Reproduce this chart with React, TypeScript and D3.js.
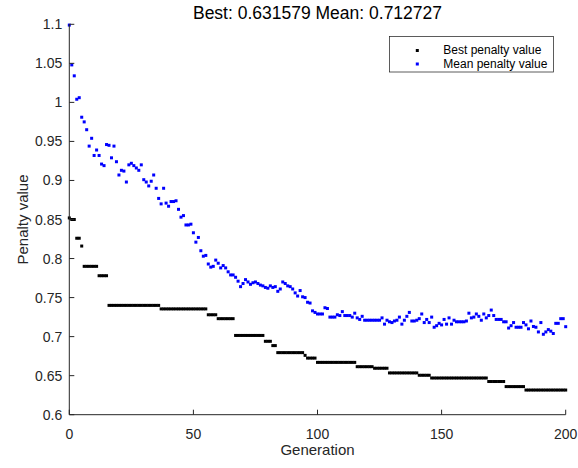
import React from "react";
import * as d3 from "d3";

const titleText = "Best: 0.631579 Mean: 0.712727";
const xLabel = "Generation";
const yLabel = "Penalty value";
const legendLabels = ["Best penalty value", "Mean penalty value"];
const xTicks = [0, 50, 100, 150, 200];
const yTicks = [0.6, 0.65, 0.7, 0.75, 0.8, 0.85, 0.9, 0.95, 1, 1.05, 1.1];

const meanValues = [
  1.099, 1.048, 1.034, 1.004, 1.006, 0.981, 0.975, 0.965, 0.944, 0.954,
  0.932, 0.939, 0.932, 0.921, 0.919, 0.946, 0.945, 0.929, 0.944, 0.924,
  0.907, 0.913, 0.912, 0.898, 0.92, 0.922, 0.919, 0.916, 0.913, 0.92,
  0.901, 0.898, 0.893, 0.899, 0.907, 0.89, 0.877, 0.87, 0.89, 0.871,
  0.867, 0.873, 0.873, 0.874, 0.863, 0.853, 0.855, 0.843, 0.843, 0.844,
  0.833, 0.821, 0.827, 0.81, 0.803, 0.804, 0.793, 0.789, 0.79, 0.798,
  0.794, 0.788, 0.791, 0.788, 0.783, 0.779, 0.779, 0.776, 0.771, 0.764,
  0.768, 0.773, 0.77, 0.767, 0.769, 0.77, 0.768, 0.766, 0.765, 0.763,
  0.762, 0.765, 0.763, 0.764, 0.758, 0.761, 0.77, 0.768, 0.765, 0.764,
  0.761, 0.756, 0.752, 0.759, 0.751, 0.75, 0.744, 0.743, 0.733, 0.731,
  0.729, 0.729, 0.729, 0.737, 0.736, 0.725, 0.725, 0.725, 0.728, 0.727,
  0.732, 0.727, 0.727, 0.727, 0.725, 0.73, 0.724, 0.722, 0.726, 0.721,
  0.721, 0.721, 0.721, 0.721, 0.721, 0.721, 0.724, 0.716, 0.721, 0.719,
  0.718, 0.72, 0.721, 0.725, 0.716, 0.721, 0.726, 0.731, 0.72, 0.72,
  0.721, 0.723, 0.729, 0.718, 0.722, 0.718, 0.725, 0.712, 0.714, 0.717,
  0.715, 0.722, 0.716, 0.724, 0.716, 0.721, 0.719, 0.719, 0.719, 0.719,
  0.72, 0.73, 0.724, 0.725, 0.729, 0.726, 0.721, 0.729, 0.724, 0.727,
  0.734, 0.727, 0.722, 0.722, 0.722, 0.719, 0.719, 0.711, 0.714, 0.718,
  0.712, 0.712, 0.712, 0.718, 0.715, 0.71, 0.72, 0.713, 0.712, 0.706,
  0.718, 0.703, 0.706, 0.709, 0.707, 0.704, 0.717, 0.717, 0.723, 0.723,
  0.712727,
];

const bestValues = [
  0.852, 0.85, 0.85, 0.826, 0.826, 0.816, 0.79, 0.79, 0.79, 0.79,
  0.79, 0.79, 0.778, 0.778, 0.778, 0.778, 0.74, 0.74, 0.74, 0.74,
  0.74, 0.74, 0.74, 0.74, 0.74, 0.74, 0.74, 0.74, 0.74, 0.74,
  0.74, 0.74, 0.74, 0.74, 0.74, 0.74, 0.74, 0.7355, 0.7355, 0.7355,
  0.7355, 0.7355, 0.7355, 0.7355, 0.7355, 0.7355, 0.7355, 0.7355, 0.7355, 0.7355,
  0.7355, 0.7355, 0.7355, 0.7355, 0.7355, 0.7355, 0.728, 0.728, 0.728, 0.728,
  0.723, 0.723, 0.723, 0.723, 0.723, 0.723, 0.723, 0.7015, 0.7015, 0.7015,
  0.7015, 0.7015, 0.7015, 0.7015, 0.7015, 0.7015, 0.7015, 0.7015, 0.7015, 0.694,
  0.694, 0.694, 0.6885, 0.6885, 0.6795, 0.6795, 0.6795, 0.6795, 0.6795, 0.6795,
  0.6795, 0.6795, 0.6795, 0.6795, 0.6795, 0.676, 0.6725, 0.6725, 0.6725, 0.6725,
  0.667, 0.667, 0.667, 0.667, 0.667, 0.667, 0.667, 0.667, 0.667, 0.667,
  0.667, 0.667, 0.667, 0.667, 0.667, 0.667, 0.6615, 0.6615, 0.6615, 0.6615,
  0.6615, 0.6615, 0.6615, 0.6595, 0.6595, 0.6595, 0.6595, 0.6595, 0.6595, 0.6535,
  0.6535, 0.6535, 0.6535, 0.6535, 0.6535, 0.6535, 0.6535, 0.6535, 0.6535, 0.6535,
  0.6535, 0.6505, 0.6505, 0.6505, 0.6505, 0.6505, 0.647, 0.647, 0.647, 0.647,
  0.647, 0.647, 0.647, 0.647, 0.647, 0.647, 0.647, 0.647, 0.647, 0.647,
  0.647, 0.647, 0.647, 0.647, 0.647, 0.647, 0.647, 0.647, 0.647, 0.6425,
  0.6425, 0.6425, 0.6425, 0.6425, 0.6425, 0.6425, 0.636, 0.636, 0.636, 0.636,
  0.636, 0.636, 0.636, 0.636, 0.631579, 0.631579, 0.631579, 0.631579, 0.631579, 0.631579,
  0.631579, 0.631579, 0.631579, 0.631579, 0.631579, 0.631579, 0.631579, 0.631579, 0.631579, 0.631579,
  0.631579,
];

const W = 578;
const H = 468;
const M = { left: 69.3, right: 565.7, top: 24.3, bottom: 414.7 };
const FONT = "'Liberation Sans', Arial, Helvetica, sans-serif";
const AX = "#262626";

export default function App() {
  const x = d3.scaleLinear().domain([0, 200]).range([M.left, M.right]);
  const y = d3.scaleLinear().domain([0.6, 1.1]).range([M.bottom, M.top]);
  const ms = 3;
  const tickLen = 5;

  return (
    <svg
      width={W}
      height={H}
      style={{ position: "absolute", left: 0, top: 0, background: "#fff" }}
      fontFamily={FONT}
    >
      <rect x={0} y={0} width={W} height={H} fill="#fff" />
      <g>
        {bestValues.map((v, i) => (
          <rect key={"b" + i} x={x(i) - ms / 2} y={y(v) - ms / 2} width={ms} height={ms} fill="#000" />
        ))}
        {meanValues.map((v, i) => (
          <rect key={"m" + i} x={x(i) - ms / 2} y={y(v) - ms / 2} width={ms} height={ms} fill="#0000ff" />
        ))}
      </g>
      <line x1={M.left} x2={M.left} y1={M.top} y2={M.bottom} stroke={AX} strokeWidth={1} />
      <line x1={M.left} x2={M.right} y1={M.bottom} y2={M.bottom} stroke={AX} strokeWidth={1} />
      {yTicks.map((t) => (
        <g key={"yt" + t}>
          <line x1={M.left} x2={M.left + tickLen} y1={y(t)} y2={y(t)} stroke={AX} />
          <text x={M.left - 7} y={y(t) + 5} textAnchor="end" fontSize={14} fill={AX}>
            {String(t)}
          </text>
        </g>
      ))}
      {xTicks.map((t) => (
        <g key={"xt" + t}>
          <line x1={x(t)} x2={x(t)} y1={M.bottom} y2={M.bottom - tickLen} stroke={AX} />
          <text x={x(t)} y={438.5} textAnchor="middle" fontSize={14} fill={AX}>
            {String(t)}
          </text>
        </g>
      ))}
      <text x={(M.left + M.right) / 2} y={455} textAnchor="middle" fontSize={15} fill={AX}>
        {xLabel}
      </text>
      <text
        transform={`translate(28, ${(M.top + M.bottom) / 2}) rotate(-90)`}
        textAnchor="middle"
        fontSize={15}
        fill={AX}
      >
        {yLabel}
      </text>
      <text x={317.5} y={19} textAnchor="middle" fontSize={17.5} fill="#000">
        {titleText}
      </text>
      <rect x={389.5} y={36.5} width={164} height={35.5} fill="#fff" stroke="#262626" strokeWidth={0.75} />
      <rect x={417.3 - 1.5} y={50.5 - 1.5} width={3} height={3} fill="#000" />
      <rect x={417.3 - 1.5} y={64 - 1.5} width={3} height={3} fill="#0000ff" />
      <text x={443.3} y={54} fontSize={12} fill="#000">
        {legendLabels[0]}
      </text>
      <text x={443.3} y={67.5} fontSize={12} fill="#000">
        {legendLabels[1]}
      </text>
    </svg>
  );
}
